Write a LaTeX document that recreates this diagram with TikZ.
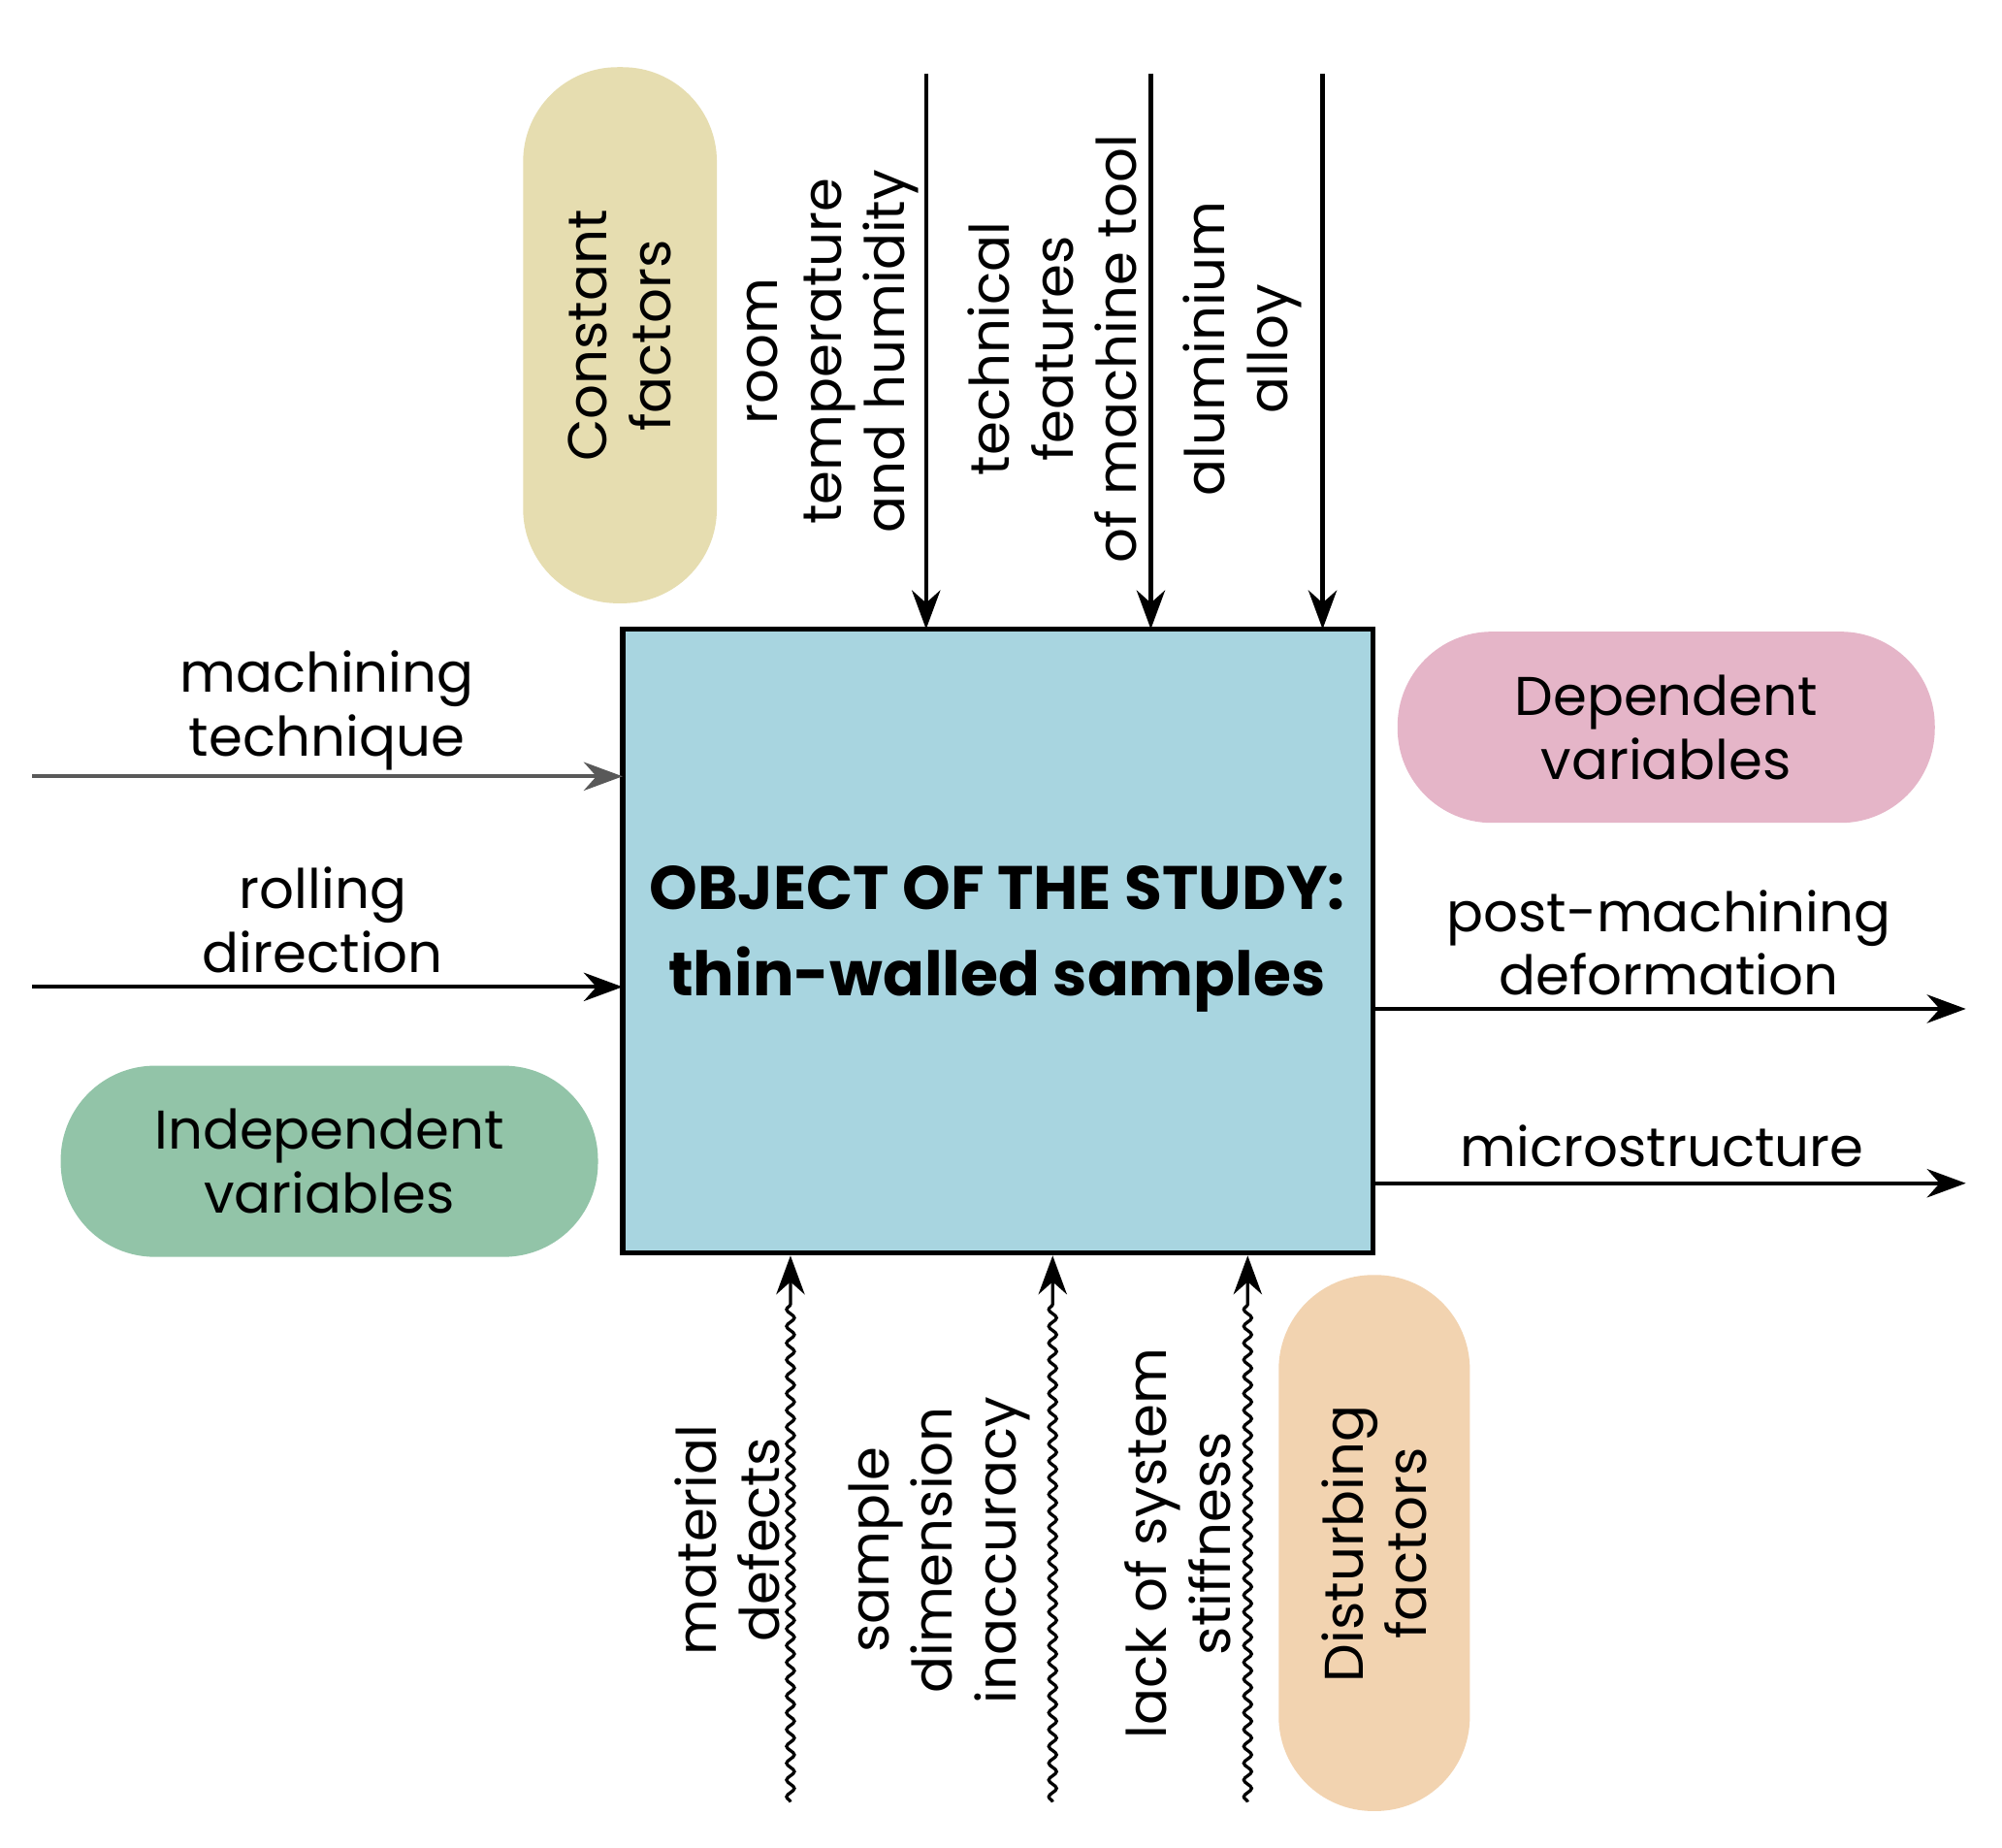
\documentclass[tikz,border=0pt]{standalone}
\usepackage{fontspec}
\setmainfont{Poppins}
\usetikzlibrary{arrows.meta,decorations.pathmorphing}
\begin{document}
\begin{tikzpicture}[x=0.01cm,y=-0.01cm,
  lbl/.style={align=center,font=\fontsize{12}{14}\selectfont,inner sep=0pt},
  pill/.style={rounded corners=0.73cm,draw=none},
  arr/.style={-{Stealth[length=0.3cm,width=0.22cm]},line width=0.9pt},
  wav/.style={-{Stealth[length=0.3cm,width=0.22cm]},line width=0.7pt,decorate,decoration={snake,amplitude=0.03cm,segment length=0.13cm,post length=0.35cm}}]
\useasboundingbox (0,0) rectangle (1550,1430);
\fill[white] (0,0) rectangle (1550,1430);
% pills
\fill[pill,fill={rgb,255:red,230;green,221;blue,176}] (405,52) rectangle (555,467);
\node[lbl,rotate=90] (cf) at (480,260) {Constant\\factors};
\fill[pill,fill={rgb,255:red,229;green,181;blue,200}] (1082,489) rectangle (1498,637);
\node[lbl] (dv) at (1290,563) {Dependent\\variables};
\fill[pill,fill={rgb,255:red,146;green,196;blue,168}] (47,825) rectangle (463,973);
\node[lbl] (iv) at (255,899) {Independent\\variables};
\fill[pill,fill={rgb,255:red,242;green,211;blue,176}] (990,987) rectangle (1138,1402);
\node[lbl,rotate=90] (df) at (1064,1195) {Disturbing\\factors};
% box
\draw[line width=1.2pt,fill={rgb,255:red,168;green,213;blue,224}] (482,487) rectangle (1063,970);
\node[align=center,font=\fontsize{13.5}{19}\selectfont\bfseries] (bt) at (772,727) {OBJECT OF THE STUDY:\\thin-walled samples};
% top
\coordinate (t1) at (717,57); \coordinate (t1e) at (717,487);
\coordinate (t2) at (891,57); \coordinate (t2e) at (891,487);
\coordinate (t3) at (1024,57); \coordinate (t3e) at (1024,487);
\draw[arr] (t1) -- (t1e);
\draw[arr] (t2) -- (t2e);
\draw[arr] (t3) -- (t3e);
\node[lbl,rotate=90] (l1) at (645,272) {room\\temperature\\and humidity};
\node[lbl,rotate=90] (l2) at (815,270) {technical\\features\\of machine tool};
\node[lbl,rotate=90] (l3) at (962,270) {aluminium\\alloy};
% left
\coordinate (a1) at (25,601); \coordinate (a1e) at (482,601);
\coordinate (a2) at (25,764); \coordinate (a2e) at (482,764);
\draw[arr,gray!70!black] (a1) -- (a1e);
\draw[arr] (a2) -- (a2e);
\node[lbl] (m1) at (253,550) {machining\\technique};
\node[lbl] (m2) at (250,712) {rolling\\direction};
% right
\coordinate (b1) at (1063,781); \coordinate (b1e) at (1522,781);
\coordinate (b2) at (1063,916); \coordinate (b2e) at (1522,916);
\draw[arr] (b1) -- (b1e);
\draw[arr] (b2) -- (b2e);
\node[lbl] (r1) at (1292,730) {post-machining\\deformation};
\node[lbl] (r2) at (1287,887) {microstructure};
% bottom wavy
\coordinate (w1) at (612,1395); \coordinate (w1e) at (612,972);
\coordinate (w2) at (815,1395); \coordinate (w2e) at (815,972);
\coordinate (w3) at (966,1395); \coordinate (w3e) at (966,972);
\draw[wav] (w1) -- (w1e);
\draw[wav] (w2) -- (w2e);
\draw[wav] (w3) -- (w3e);
\node[lbl,rotate=90] (d1) at (563,1192) {material\\defects};
\node[lbl,rotate=90] (d2) at (727,1200) {sample\\dimension\\inaccuracy};
\node[lbl,rotate=90] (d3) at (912,1195) {lack of system\\stiffness};
\end{tikzpicture}
\end{document}
